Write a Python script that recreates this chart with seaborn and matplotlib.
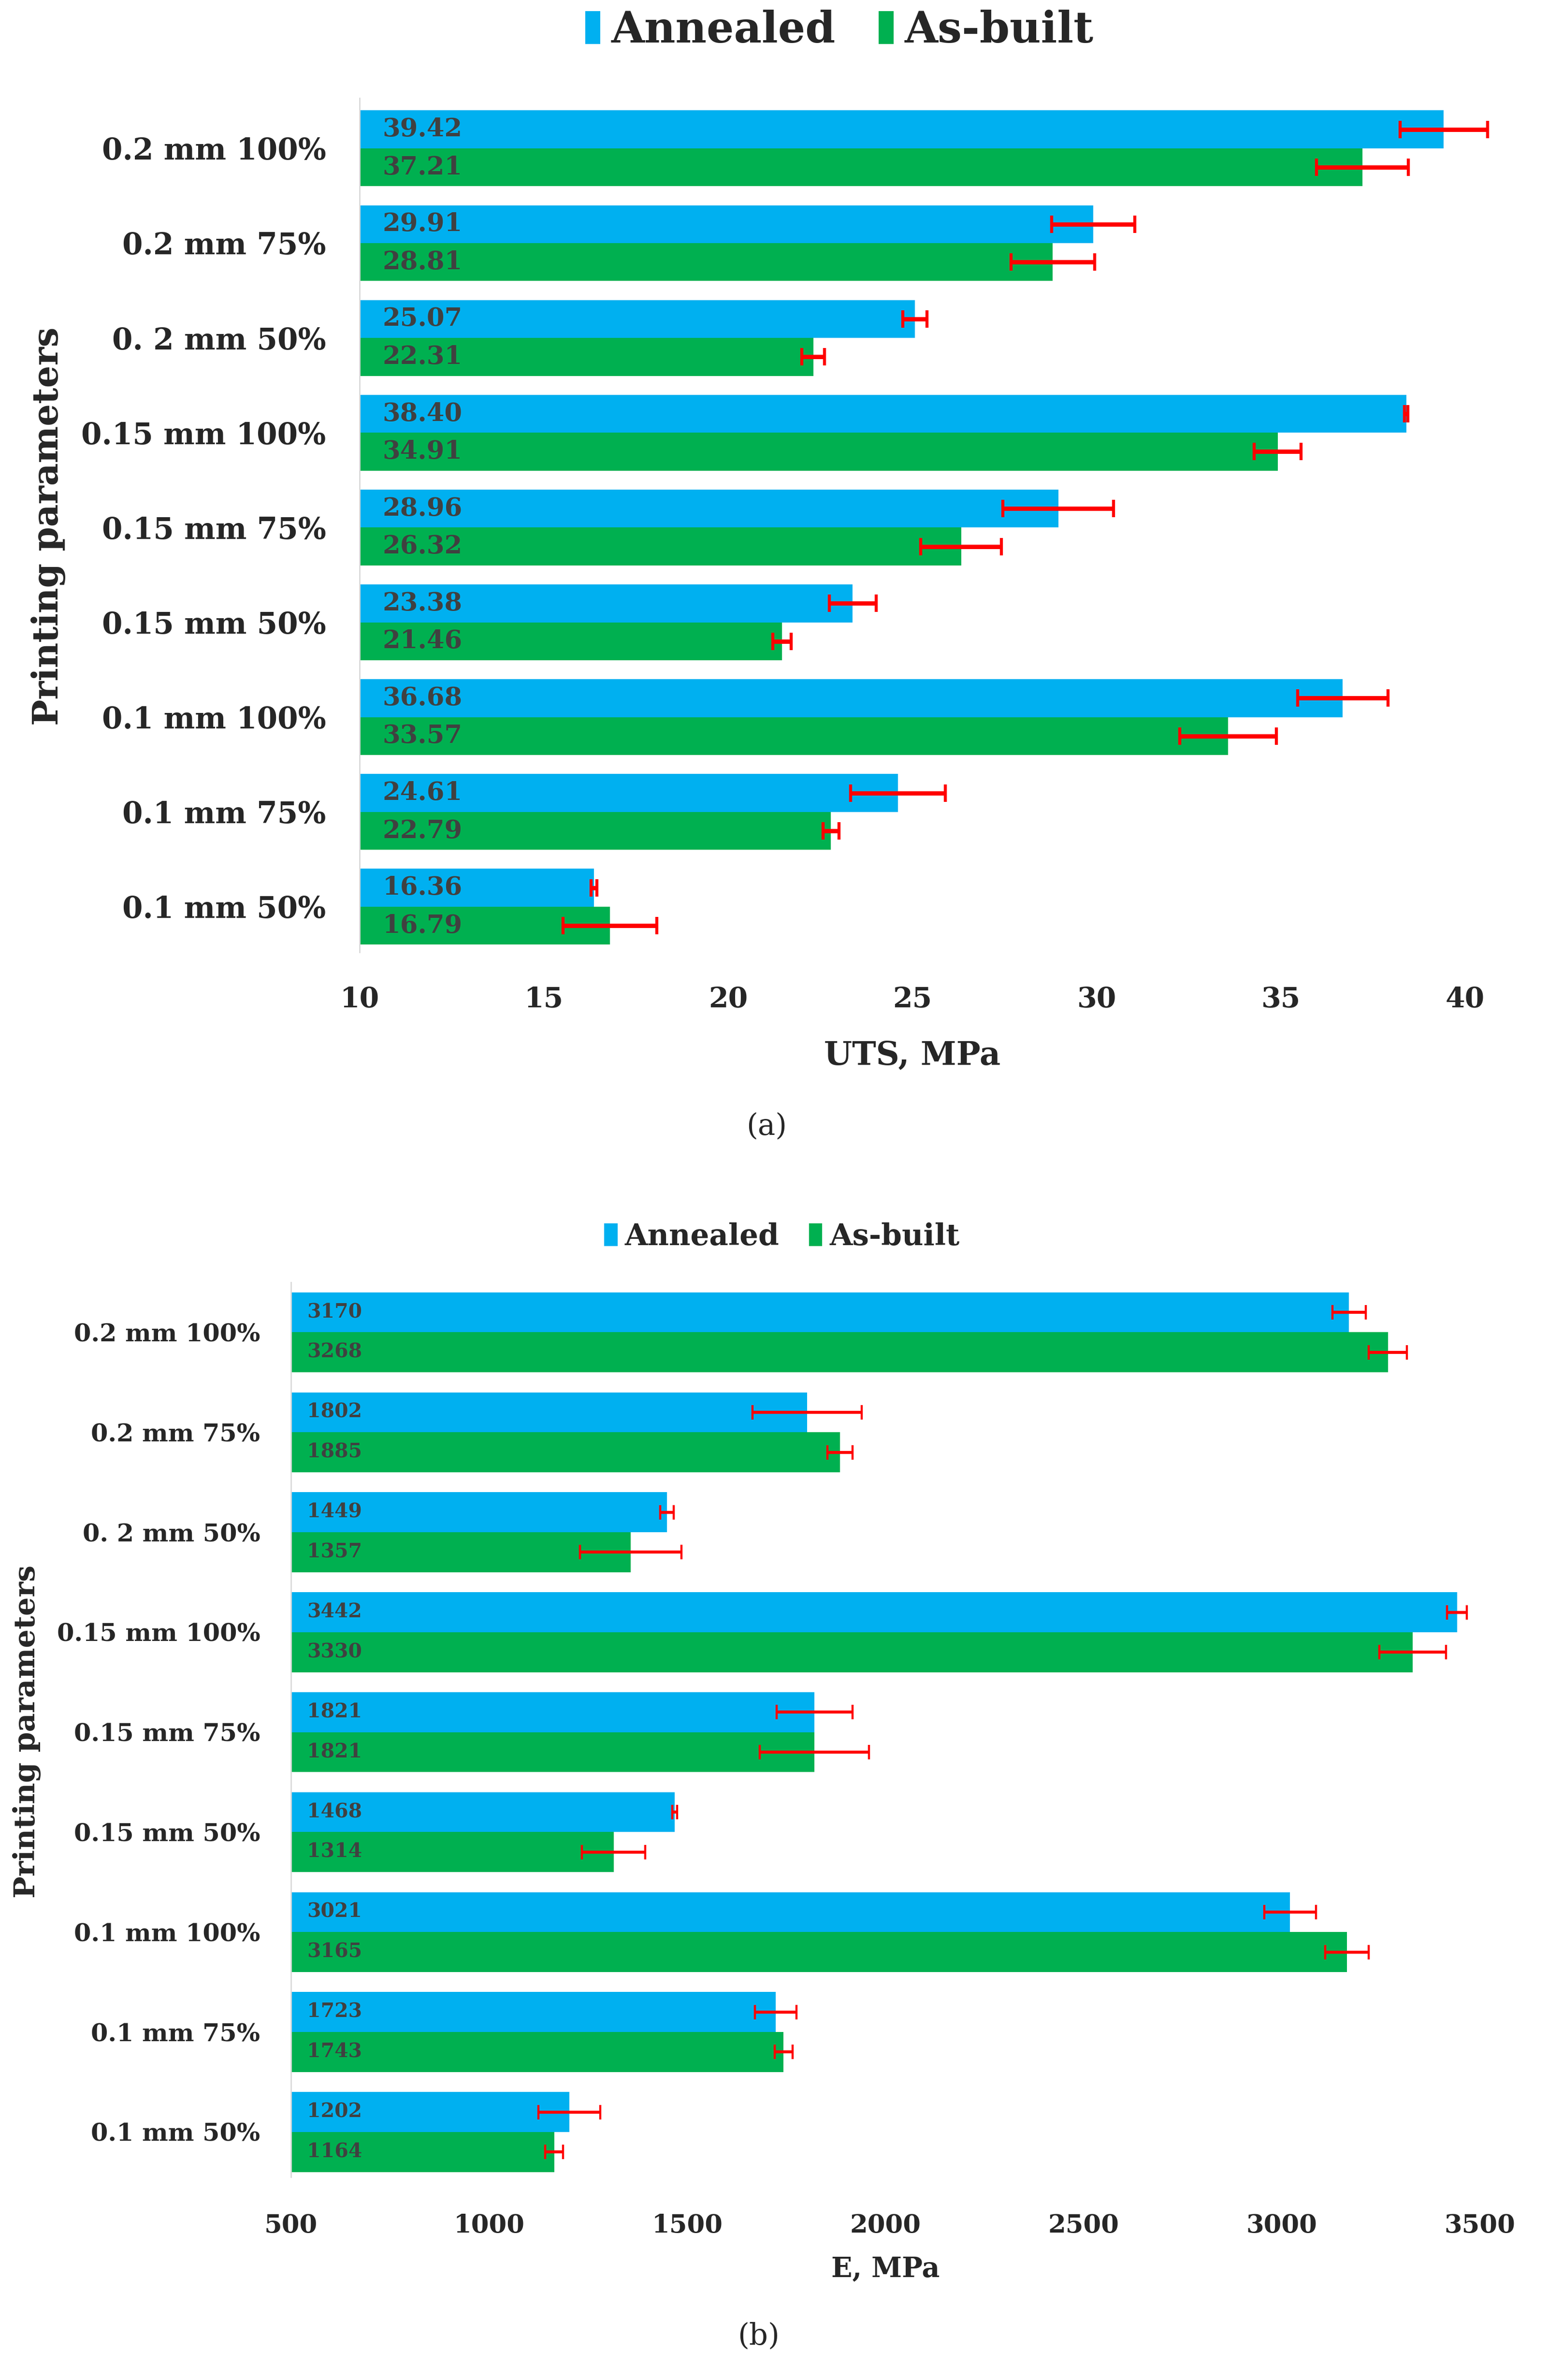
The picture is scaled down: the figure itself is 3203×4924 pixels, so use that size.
import pandas as pd
import matplotlib
matplotlib.use("Agg")
import matplotlib.pyplot as plt
import seaborn as sns

# dados
categorias = ["0.2 mm 100%", "0.2 mm 75%", "0. 2 mm 50%",
              "0.15 mm 100%", "0.15 mm 75%", "0.15 mm 50%",
              "0.1 mm 100%", "0.1 mm 75%", "0.1 mm 50%"]
grupos = ["Annealed", "As-built"]

uts_annealed = [39.42, 29.91, 25.07, 38.40, 28.96, 23.38, 36.68, 24.61, 16.36]
uts_asbuilt = [37.21, 28.81, 22.31, 34.91, 26.32, 21.46, 33.57, 22.79, 16.79]
uts_err_annealed = [1.19, 1.13, 0.33, 0.05, 1.50, 0.64, 1.23, 1.29, 0.08]
uts_err_asbuilt = [1.25, 1.13, 0.31, 0.64, 1.09, 0.25, 1.31, 0.22, 1.27]

e_annealed = [3170, 1802, 1449, 3442, 1821, 1468, 3021, 1723, 1202]
e_asbuilt = [3268, 1885, 1357, 3330, 1821, 1314, 3165, 1743, 1164]
e_err_annealed = [42, 138, 17, 25, 96, 6, 65, 52, 78]
e_err_asbuilt = [48, 32, 128, 84, 138, 80, 55, 23, 23]

uts_ticks = [10, 15, 20, 25, 30, 35, 40]
e_ticks = [500, 1000, 1500, 2000, 2500, 3000, 3500]

cores = {"Annealed": "#00B0F0", "As-built": "#00B050"}

sns.set_style("white")
plt.rcParams['font.family'] = ['DejaVu Serif']
plt.rcParams['font.weight'] = 'bold'

fig = plt.figure(figsize=(32.03, 49.24), dpi=100)
ax1 = fig.add_axes([0.2323, 0.5999, 0.9465 - 0.2323, 0.3589])
ax2 = fig.add_axes([0.188, 0.0853, 0.956 - 0.188, 0.3759])


def painel(ax, vals_a, vals_b, err_a, err_b, ticks, xlabel, fmt, s):
    df = pd.DataFrame({
        "cat": categorias * 2,
        "grupo": ["Annealed"] * len(categorias) + ["As-built"] * len(categorias),
        "valor": vals_a + vals_b,
    })
    sns.barplot(data=df, y="cat", x="valor", hue="grupo", hue_order=grupos,
                palette=cores, orient="h", saturation=1, errorbar=None,
                width=0.8, linewidth=0, ax=ax)

    # barras de erro e rotulos a partir das barras desenhadas
    for cont, vals, errs in zip(ax.containers, [vals_a, vals_b], [err_a, err_b]):
        ys = [p.get_y() + p.get_height() / 2 for p in cont.patches]
        eb = ax.errorbar(vals, ys, xerr=errs, fmt="none", ecolor="#FF0000",
                         elinewidth=s["elw"], capsize=s["cap"], capthick=s["elw"] * 0.7)
        for art in eb.lines[1] + eb.lines[2]:
            art.set_clip_on(False)
        for v, y in zip(vals, ys):
            ax.annotate(fmt.format(v), xy=(ticks[0], y), xytext=(s["off"], 0),
                        textcoords="offset points", va="center", ha="left",
                        fontsize=s["data"], color="#404040", fontweight="bold")

    ax.set_xlim(ticks[0], ticks[-1])
    ax.set_ylim(len(categorias) - 1 + s["ylim"][1], s["ylim"][0])
    ax.set_xticks(ticks)
    ax.set_xlabel(xlabel, fontsize=s["xlab"], fontweight="bold", labelpad=s["xpad"])
    ax.set_ylabel("")
    ax.tick_params(axis="x", labelsize=s["tick"], length=0, pad=s["tpad"])
    ax.tick_params(axis="y", labelsize=s["cat"], length=0, pad=s["ypad"])
    for sp in ["top", "right", "bottom"]:
        ax.spines[sp].set_visible(False)
    ax.spines["left"].set_color("#D9D9D9")
    ax.spines["left"].set_linewidth(2)

    sns.move_legend(ax, "center", bbox_to_anchor=s["leg"], ncol=2, frameon=False,
                    title=None, handlelength=s["hl"], handleheight=0.8,
                    handletextpad=0.25, columnspacing=1.0,
                    prop={"weight": "bold", "size": s["legsize"]})


painel(ax1, uts_annealed, uts_asbuilt, uts_err_annealed, uts_err_asbuilt,
       uts_ticks, "UTS, MPa", "{:.2f}",
       dict(elw=6.5, cap=13, off=34, data=38, xlab=48, xpad=40, tick=42,
            tpad=50, cat=44, ypad=50, leg=(0.434, 1.079), legsize=64, hl=0.35,
            ylim=(-0.53, 0.48)))
painel(ax2, e_annealed, e_asbuilt, e_err_annealed, e_err_asbuilt,
       e_ticks, "E, MPa", "{:d}",
       dict(elw=4.5, cap=11, off=24, data=29.5, xlab=41, xpad=26, tick=38,
            tpad=54, cat=36.5, ypad=46, leg=(0.413, 1.051), legsize=44, hl=0.45,
            ylim=(-0.5, 0.45)))

fig.text(100 / 3203, 1 - 1089 / 4924, "Printing parameters", rotation=90,
         ha="center", va="center", fontsize=52, fontweight="bold")
fig.text(56 / 3203, 1 - 3582 / 4924, "Printing parameters", rotation=90,
         ha="center", va="center", fontsize=43.5, fontweight="bold")

fig.text(1586 / 3203, 1 - 2330 / 4924, "(a)", ha="center", va="center",
         fontsize=44, fontweight="normal")
fig.text(1570 / 3203, 1 - 4833 / 4924, "(b)", ha="center", va="center",
         fontsize=44, fontweight="normal")

plt.savefig("out.png", dpi=100)
